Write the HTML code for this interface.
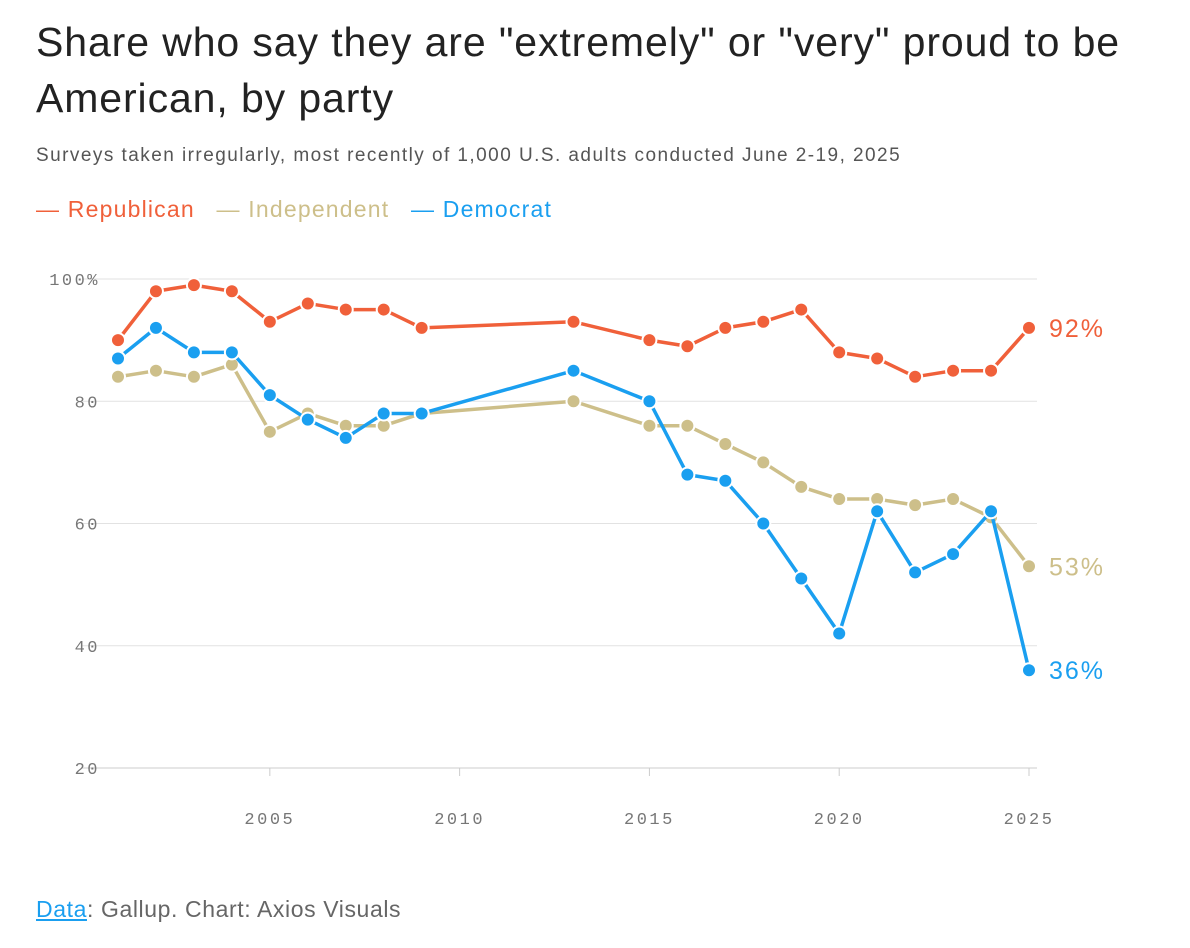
<!DOCTYPE html>
<html><head><meta charset="utf-8"><style>
body{margin:0;background:#fff;font-family:"Liberation Sans",sans-serif;}
.wrap{position:relative;width:1190px;height:948px;}
h1{position:absolute;left:36px;top:14px;margin:0;font-weight:400;font-size:41px;line-height:56px;color:#222;width:1140px;letter-spacing:0.9px}
.sub{position:absolute;left:36px;top:145px;font-size:19px;color:#555;letter-spacing:1.45px}
.legend{position:absolute;left:36px;top:196px;font-size:23px;letter-spacing:1.2px}
.legend span{margin-right:14px}
.foot{position:absolute;left:36px;top:896px;font-size:23px;color:#666;letter-spacing:0.6px}
.foot a{color:#1a9ff0;text-decoration:underline}
svg{position:absolute;left:0;top:0}
</style></head><body>
<div class="wrap">
<h1>Share who say they are "extremely" or "very" proud to be American, by party</h1>
<div class="sub">Surveys taken irregularly, most recently of 1,000 U.S. adults conducted June 2-19, 2025</div>
<div class="legend">
<span style="color:#f0603a">— Republican</span>
<span style="color:#cdbf8a">— Independent</span>
<span style="color:#1a9ff0">— Democrat</span>
</div>
<svg id="chart" width="1190" height="948"></svg>
<div class="foot"><a>Data</a>: Gallup. Chart: Axios Visuals</div>
</div>
<script>
const years=[2001,2002,2003,2004,2005,2006,2007,2008,2009,2013,2015,2016,2017,2018,2019,2020,2021,2022,2023,2024,2025];
const republican=[90,98,99,98,93,96,95,95,92,93,90,89,92,93,95,88,87,84,85,85,92];
const independent=[84,85,84,86,75,78,76,76,78,80,76,76,73,70,66,64,64,63,64,61,53];
const democrat=[87,92,88,88,81,77,74,78,78,85,80,68,67,60,51,42,62,52,55,62,36];
const yTicks=[20,40,60,80,100];
const xTicks=[2005,2010,2015,2020,2025];
const NS='http://www.w3.org/2000/svg';
const svg=document.getElementById('chart');
const x=y=>118+(y-2001)*(1029-118)/24;
const yS=v=>768-(v-20)*(768-279)/80;
function el(t,a,p){const e=document.createElementNS(NS,t);for(const k in a)e.setAttribute(k,a[k]);(p||svg).appendChild(e);return e;}
yTicks.forEach(t=>{
  const g=el('line',{x1:82,x2:1037,y1:yS(t),y2:yS(t),stroke:t===20?'#ccc':'#e2e2e2','stroke-width':1});
  
  
  const tx=el('text',{x:100,y:yS(t)+6,'text-anchor':'end','font-family':'Liberation Mono, monospace','font-size':17,'letter-spacing':2.5,fill:'#777'});
  tx.textContent=t===100?'100%':t;
  
  
});
xTicks.forEach(t=>{
  const l=el('line',{x1:x(t),x2:x(t),y1:768,y2:776,stroke:'#ccc'});
  
  
  const tx=el('text',{x:x(t),y:824,'text-anchor':'middle','font-family':'Liberation Mono, monospace','font-size':17,'letter-spacing':2.5,fill:'#777'});
  tx.textContent=t;
  
  
});
const series=[['independent',independent,'#cdbf8a'],['democrat',democrat,'#1a9ff0'],['republican',republican,'#f0603a']];
series.forEach(([n,d,c])=>{
  const p=el('polyline',{points:d.map((v,i)=>x(years[i])+','+yS(v)).join(' '),fill:'none',stroke:c,'stroke-width':3.5,'stroke-linejoin':'round'});
  
  
  d.forEach((v,i)=>{
    const m=el('circle',{cx:x(years[i]),cy:yS(v),r:7,fill:c,stroke:'#fff','stroke-width':2});
    
    
  });
  const last=d[d.length-1];
  const t=el('text',{x:1049,y:yS(last)+9,'font-family':'Liberation Sans, sans-serif','font-size':25,'letter-spacing':2,fill:c});
  t.textContent=last+'%';
  
  
});
</script>
</body></html>
